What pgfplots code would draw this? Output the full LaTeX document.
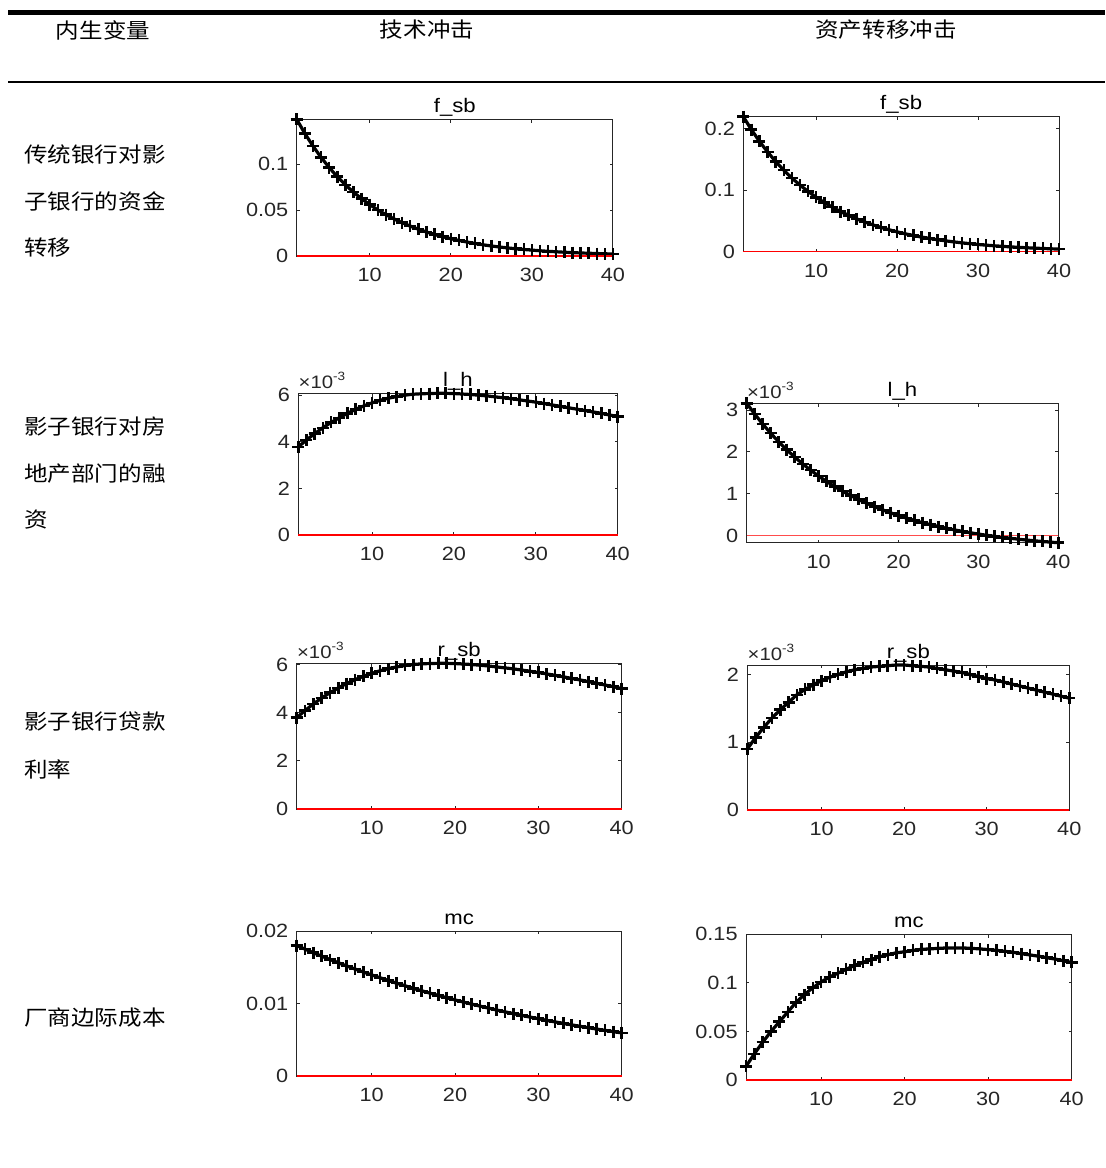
\documentclass[border=0pt]{standalone}
\usepackage{fontspec}
\setmainfont{Liberation Sans}[FakeStretch=1.13]
\newfontfamily\cjk{Noto Sans CJK SC}[FakeStretch=1.12]
\usepackage{pgfplots}
\pgfplotsset{compat=1.18}
\definecolor{axgray}{HTML}{262626}
\newcommand{\cjkfont}{\cjk\fontsize{10.5}{12}\selectfont}
\pgfplotsset{irf/.style={
  scale only axis, anchor=north west,
  xmin=1, xmax=40, xtick={10,20,30,40}, xticklabels={10,20,30,40},
  axis line style={axgray, line width=0.5pt},
  tick style={axgray, line width=0.5pt},
  major tick length=1.6pt, tick align=inside,
  ticklabel style={font=\fontsize{9.6}{11}\selectfont, text=axgray},
  yticklabel style={anchor=east, inner sep=0pt, xshift=-4pt},
  xticklabel style={anchor=north, inner sep=0pt, yshift=-6pt},
  scaled ticks=false, clip=false,
  every axis title shift=0pt,
  title style={at={(0.5,1)}, anchor=base, yshift=3.5pt, inner sep=0pt, font=\fontsize{9.8}{11}\selectfont, text=black},
},
blk/.style={black, line width=1.6pt, mark=+, mark size=3pt, mark options={line width=1.25pt}},
zr/.style={red, line width=0.6pt, no marks},
}
\newcommand{\expo}{\node[anchor=base west, inner sep=0pt, font=\fontsize{9}{10}\selectfont, text=axgray] at (rel axis cs:0,1) [yshift=2.5pt] {×10\textsuperscript{-3}};}
\begin{document}
\begin{tikzpicture}
\useasboundingbox (0,0) rectangle (552.5pt,-584pt);
% table rules
\draw[line width=2.5pt] (4pt,-6.25pt) -- (552.5pt,-6.25pt);
\draw[line width=1.25pt] (4pt,-41pt) -- (552.5pt,-41pt);
\node[font=\cjkfont] at (51.5pt,-15pt) {内生变量};
\node[font=\cjkfont] at (213.5pt,-15pt) {技术冲击};
\node[font=\cjkfont] at (443pt,-15pt) {资产转移冲击};
% row labels
\node[font=\cjkfont, anchor=west, inner sep=0pt] at (12pt,-77.5pt) {传统银行对影};
\node[font=\cjkfont, anchor=west, inner sep=0pt] at (12pt,-100.75pt) {子银行的资金};
\node[font=\cjkfont, anchor=west, inner sep=0pt] at (12pt,-124pt) {转移};
\node[font=\cjkfont, anchor=west, inner sep=0pt] at (12pt,-213.5pt) {影子银行对房};
\node[font=\cjkfont, anchor=west, inner sep=0pt] at (12pt,-237pt) {地产部门的融};
\node[font=\cjkfont, anchor=west, inner sep=0pt] at (12pt,-260pt) {资};
\node[font=\cjkfont, anchor=west, inner sep=0pt] at (12pt,-361pt) {影子银行贷款};
\node[font=\cjkfont, anchor=west, inner sep=0pt] at (12pt,-384.5pt) {利率};
\node[font=\cjkfont, anchor=west, inner sep=0pt] at (12pt,-509pt) {厂商边际成本};

% P1 f_sb technology
\begin{axis}[irf, at={(148.35pt,-59.65pt)}, width=158.15pt, height=68.35pt,
  ymin=0, ymax=0.1486, ytick={0,0.05,0.1}, yticklabels={0,0.05,0.1}, title={f\_sb}]
\addplot[blk] coordinates {(1,0.1486)(2,0.1333)(3,0.1196)(4,0.1073)(5,0.0962)(6,0.0863)(7,0.0774)(8,0.0694)(9,0.0623)(10,0.0559)(11,0.0501)(12,0.0450)(13,0.0403)(14,0.0362)(15,0.0325)(16,0.0291)(17,0.0261)(18,0.0234)(19,0.0210)(20,0.0188)(21,0.0169)(22,0.0152)(23,0.0136)(24,0.0122)(25,0.0109)(26,0.0098)(27,0.0088)(28,0.0079)(29,0.0071)(30,0.0064)(31,0.0057)(32,0.0051)(33,0.0046)(34,0.0041)(35,0.0037)(36,0.0033)(37,0.0030)(38,0.0027)(39,0.0024)(40,0.0022)};
\addplot[zr] coordinates {(1,0)(40,0)};
\end{axis}

% P2 f_sb asset transfer
\begin{axis}[irf, at={(371.65pt,-58.35pt)}, width=157.85pt, height=67.5pt,
  ymin=0, ymax=0.219, ytick={0,0.1,0.2}, yticklabels={0,0.1,0.2}, title={f\_sb}]
\addplot[blk] coordinates {(1,0.219)(2,0.198)(3,0.179)(4,0.1618)(5,0.1463)(6,0.1322)(7,0.1195)(8,0.1081)(9,0.0977)(10,0.0883)(11,0.0798)(12,0.0722)(13,0.0652)(14,0.0590)(15,0.0533)(16,0.0482)(17,0.0436)(18,0.0394)(19,0.0356)(20,0.0322)(21,0.0291)(22,0.0263)(23,0.0238)(24,0.0215)(25,0.0194)(26,0.0176)(27,0.0159)(28,0.0144)(29,0.0130)(30,0.0117)(31,0.0106)(32,0.0096)(33,0.0087)(34,0.0078)(35,0.0071)(36,0.0064)(37,0.0058)(38,0.0052)(39,0.0047)(40,0.0043)};
\addplot[zr] coordinates {(1,0)(40,0)};
\end{axis}

% P3 l_h technology (x 10^-3)
\begin{axis}[irf, at={(149.15pt,-196.65pt)}, width=159.7pt, height=70.85pt,
  ymin=0, ymax=6.08, ytick={0,2,4,6}, yticklabels={0,2,4,6}, title={l\_h}]
\addplot[blk] coordinates {(1,3.78)(2,4.08)(3,4.35)(4,4.60)(5,4.83)(6,5.03)(7,5.22)(8,5.39)(9,5.54)(10,5.67)(11,5.78)(12,5.87)(13,5.94)(14,6.00)(15,6.04)(16,6.06)(17,6.07)(18,6.08)(19,6.08)(20,6.07)(21,6.05)(22,6.03)(23,6.00)(24,5.97)(25,5.93)(26,5.89)(27,5.85)(28,5.80)(29,5.75)(30,5.70)(31,5.64)(32,5.58)(33,5.52)(34,5.46)(35,5.40)(36,5.34)(37,5.28)(38,5.22)(39,5.15)(40,5.08)};
\addplot[zr] coordinates {(1,0)(40,0)};
\expo
\end{axis}

% P4 l_h asset transfer (x 10^-3)
\begin{axis}[irf, at={(373.35pt,-201.65pt)}, width=155.8pt, height=69.7pt,
  ymin=-0.167, ymax=3.16, ytick={0,1,2,3}, yticklabels={0,1,2,3}, title={l\_h}]
\addplot[blk] coordinates {(1,3.160)(2,2.904)(3,2.666)(4,2.446)(5,2.242)(6,2.053)(7,1.877)(8,1.715)(9,1.564)(10,1.424)(11,1.295)(12,1.175)(13,1.063)(14,0.960)(15,0.865)(16,0.776)(17,0.694)(18,0.618)(19,0.547)(20,0.481)(21,0.421)(22,0.364)(23,0.312)(24,0.264)(25,0.219)(26,0.178)(27,0.139)(28,0.103)(29,0.070)(30,0.040)(31,0.011)(32,-0.015)(33,-0.040)(34,-0.062)(35,-0.083)(36,-0.103)(37,-0.121)(38,-0.138)(39,-0.153)(40,-0.167)};
\addplot[zr, red!70] coordinates {(1,0)(40,0)};
\expo
\end{axis}

% P5 r_sb technology (x 10^-3)
\begin{axis}[irf, at={(148.35pt,-331.65pt)}, width=162.5pt, height=72.85pt,
  ymin=0, ymax=6.05, ytick={0,2,4,6}, yticklabels={0,2,4,6}, title={r\_sb}]
\addplot[blk] coordinates {(1,3.79)(2,4.09)(3,4.36)(4,4.61)(5,4.83)(6,5.03)(7,5.21)(8,5.37)(9,5.51)(10,5.63)(11,5.74)(12,5.83)(13,5.90)(14,5.96)(15,6.00)(16,6.03)(17,6.04)(18,6.05)(19,6.05)(20,6.04)(21,6.02)(22,6.00)(23,5.97)(24,5.94)(25,5.90)(26,5.86)(27,5.82)(28,5.77)(29,5.72)(30,5.67)(31,5.61)(32,5.55)(33,5.49)(34,5.42)(35,5.36)(36,5.29)(37,5.22)(38,5.15)(39,5.08)(40,5.00)};
\addplot[zr] coordinates {(1,0)(40,0)};
\expo
\end{axis}

% P6 r_sb asset transfer (x 10^-3)
\begin{axis}[irf, at={(373.65pt,-332.5pt)}, width=161pt, height=72.5pt,
  ymin=0, ymax=2.14, ytick={0,1,2}, yticklabels={0,1,2}, title={r\_sb}]
\addplot[blk] coordinates {(1,0.90)(2,1.07)(3,1.22)(4,1.36)(5,1.48)(6,1.59)(7,1.70)(8,1.78)(9,1.85)(10,1.91)(11,1.96)(12,2.00)(13,2.04)(14,2.07)(15,2.09)(16,2.11)(17,2.12)(18,2.13)(19,2.14)(20,2.14)(21,2.13)(22,2.12)(23,2.11)(24,2.09)(25,2.07)(26,2.05)(27,2.03)(28,2.00)(29,1.97)(30,1.94)(31,1.92)(32,1.89)(33,1.86)(34,1.83)(35,1.80)(36,1.77)(37,1.74)(38,1.71)(39,1.68)(40,1.65)};
\addplot[zr] coordinates {(1,0)(40,0)};
\expo
\end{axis}

% P7 mc technology
\begin{axis}[irf, at={(148.35pt,-465.5pt)}, width=162.5pt, height=72.5pt,
  ymin=0, ymax=0.02, ytick={0,0.01,0.02}, yticklabels={0,0.01,0.02}, title={mc}]
\addplot[blk] coordinates {(1,0.018000)(2,0.017496)(3,0.017006)(4,0.016530)(5,0.016067)(6,0.015617)(7,0.015180)(8,0.014755)(9,0.014342)(10,0.013940)(11,0.013550)(12,0.013171)(13,0.012802)(14,0.012444)(15,0.012095)(16,0.011757)(17,0.011428)(18,0.011108)(19,0.010797)(20,0.010495)(21,0.010201)(22,0.009915)(23,0.009638)(24,0.009368)(25,0.009106)(26,0.008851)(27,0.008603)(28,0.008362)(29,0.008128)(30,0.007901)(31,0.007679)(32,0.007464)(33,0.007255)(34,0.007052)(35,0.006855)(36,0.006663)(37,0.006476)(38,0.006295)(39,0.006119)(40,0.005947)};
\addplot[zr] coordinates {(1,0)(40,0)};
\end{axis}

% P8 mc asset transfer
\begin{axis}[irf, at={(373pt,-467.15pt)}, width=162.85pt, height=72.85pt,
  ymin=0, ymax=0.15, ytick={0,0.05,0.1,0.15}, yticklabels={0,0.05,0.1,0.15}, title={mc}]
\addplot[blk] coordinates {(1,0.014)(2,0.027)(3,0.039)(4,0.050)(5,0.060)(6,0.070)(7,0.080)(8,0.088)(9,0.095)(10,0.101)(11,0.106)(12,0.110)(13,0.114)(14,0.118)(15,0.121)(16,0.124)(17,0.127)(18,0.129)(19,0.131)(20,0.132)(21,0.1335)(22,0.1345)(23,0.135)(24,0.1355)(25,0.136)(26,0.136)(27,0.136)(28,0.1355)(29,0.135)(30,0.1343)(31,0.1335)(32,0.1325)(33,0.1315)(34,0.1300)(35,0.1288)(36,0.1275)(37,0.1260)(38,0.1245)(39,0.1228)(40,0.1210)};
\addplot[zr] coordinates {(1,0)(40,0)};
\end{axis}
\end{tikzpicture}
\end{document}
